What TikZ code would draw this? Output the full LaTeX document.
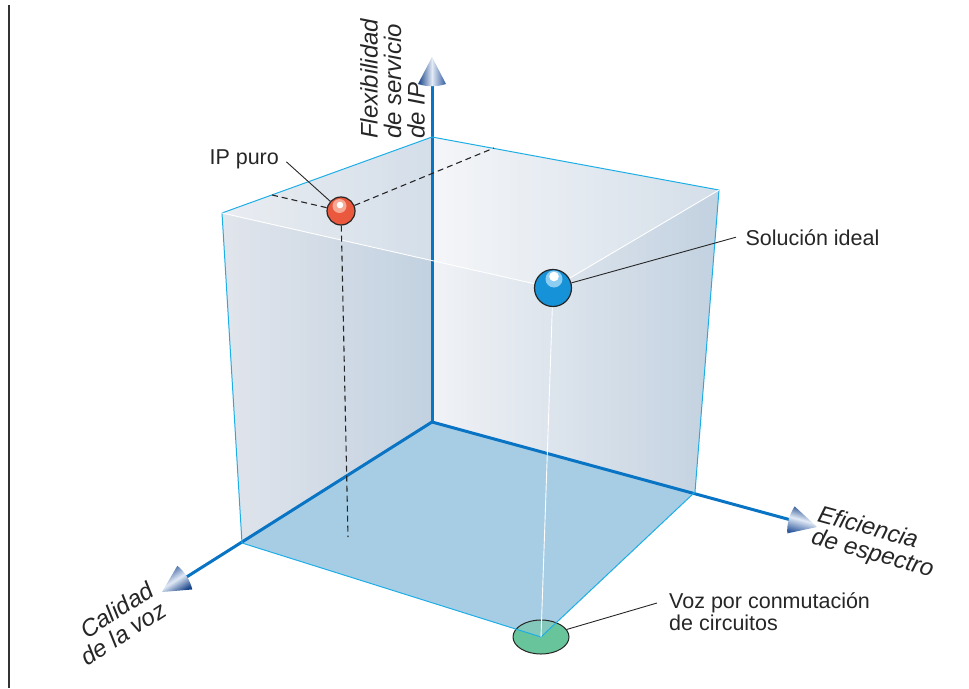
\documentclass[tikz,border=0pt]{standalone}
\usepackage{fontspec}
\setmainfont{Liberation Sans}
\usetikzlibrary{shapes.geometric}
\definecolor{axisblue}{RGB}{10,116,196}
\definecolor{edgecyan}{RGB}{30,174,230}
\definecolor{floorblue}{RGB}{166,205,228}
\definecolor{wallleft}{RGB}{225,229,236}
\definecolor{wallright}{RGB}{194,209,224}
\definecolor{tipdark}{RGB}{22,66,136}
\definecolor{tiplight}{RGB}{110,150,210}
\definecolor{redball}{RGB}{234,88,62}
\definecolor{redhi}{RGB}{247,168,148}
\definecolor{blueball}{RGB}{22,146,216}
\definecolor{bluehi}{RGB}{140,205,242}
\definecolor{circgreen}{RGB}{104,196,154}

% cone shaped arrow head: tip point, direction
\newcommand{\axistip}[2]{%
  \shade[top color=tipdark, bottom color=tipdark!70!tiplight, middle color=white!80!tiplight, shading angle=#2]
    [shift={#1}, rotate=#2] (0,0) -- (-27,14) .. controls (-30,5) and (-30,-5) .. (-27,-14) -- cycle;
}

\begin{document}
\begin{tikzpicture}[x=1pt, y=-1pt, line join=round,
    axis/.style={axisblue, line width=3pt},
    edge/.style={edgecyan, line width=1pt},
    inner/.style={white, line width=0.9pt},
    guide/.style={black!85, line width=1.1pt, dash pattern=on 6pt off 4pt},
    callout/.style={black!85, line width=0.9pt},
    ball/.style={circle, draw=black!85, line width=1.2pt, inner sep=0pt},
    lbl/.style={font=\fontsize{21.5}{22}\selectfont, text=black!85},
    axislbl/.style={font=\fontsize{24}{23.5}\selectfont\itshape, text=black!85, inner sep=0pt}]
  \useasboundingbox (0,0) rectangle (969,688);
  \draw[line width=1.2pt, black!80] (9,5) -- (9,688);

  % corners of the cube
  \coordinate (O) at (432,422);
  \coordinate (A) at (242,543);
  \coordinate (B) at (695,492);
  \coordinate (C) at (541,637);
  \coordinate (TO) at (432,137);
  \coordinate (TA) at (222,213);
  \coordinate (TB) at (719,190);
  \coordinate (TC) at (553,288);

  % back walls, top and floor
  \shade[left color=wallleft, right color=wallright] (TA) -- (TO) -- (O) -- (A) -- cycle;
  \shade[left color=wallleft!50!white, right color=wallright] (TO) -- (TB) -- (B) -- (O) -- cycle;
  \fill[white, fill opacity=0.3] (TA) -- (TO) -- (TB) -- (TC) -- cycle;
  \fill[floorblue] (O) -- (A) -- (C) -- (B) -- cycle;

  \node[ellipse, fill=circgreen, minimum width=56pt, minimum height=34pt, inner sep=0pt] (conmut) at (C) {};
  \begin{scope}
    \clip (O) -- (A) -- (C) -- (B) -- cycle;
    \fill[floorblue, fill opacity=0.45] (C) ellipse (28pt and 17pt);
  \end{scope}
  \draw[black!85, line width=1pt] (C) ellipse (28pt and 17pt);

  % axes
  \draw[axis] (O) -- (432,84);
  \draw[axis] (O) -- (791,520);
  \draw[axis] (O) -- (185,578);
  \axistip{(432,57)}{90}
  \axistip{(817,527)}{-15.3}
  \axistip{(162,592)}{212.2}

  % edges of the cube
  \draw[edge] (TA) -- (TO) -- (TB) -- (B);
  \draw[edge] (TA) -- (A) -- (C) -- (B);
  \draw[inner] (TA) -- (TC) -- (TB);
  \draw[inner] (TC) -- (C);

  % the two points
  \node[ball, fill=redball, minimum size=28pt] (ipball) at (341,211) {};
  \fill[redhi] (339.5,206) circle (7pt);
  \fill[white] (340,205) circle (3.3pt);
  \node[ball, fill=blueball, minimum size=37pt] (idealball) at (553,288) {};
  \fill[bluehi] (554,279) circle (8.5pt);
  \fill[white] (554,276.5) circle (4.8pt);

  \coordinate (ipleft) at (272,195);
  \coordinate (ipright) at (494,148);
  \coordinate (ipdown) at (348,537);
  \draw[guide] (ipleft) -- (ipball);
  \draw[guide] (ipball) -- (ipright);
  \draw[guide] (ipball) -- (ipdown);

  % labels
  \node[lbl, anchor=base west] (iplbl) at (206,164) {IP puro};
  \node[lbl, anchor=base west] (ideallbl) at (742,245) {Solución ideal};
  \node[lbl, anchor=north west, align=left, inner sep=0pt] (vozlbl) at (669,592)
    {Voz por conmutación\\de circuitos};
  \draw[callout] ([xshift=4pt,yshift=-3pt]iplbl.east) -- (ipball);
  \draw[callout] ([xshift=-6pt]ideallbl.west) -- (idealball);
  \draw[callout] ([xshift=-12pt,yshift=-11pt]vozlbl.north west) -- (conmut);

  \node[axislbl, rotate=90, align=left, anchor=north west] (flexlbl) at (360,139)
    {Flexibilidad\\de servicio\\de IP};
  \node[axislbl, rotate=-15.3, align=left, anchor=north west] (eflbl) at (821,504)
    {Eficiencia\\de espectro};
  \node[axislbl, rotate=33, align=right, anchor=north east] (callbl) at (146,580)
    {Calidad\\de la voz};
\end{tikzpicture}
\end{document}
